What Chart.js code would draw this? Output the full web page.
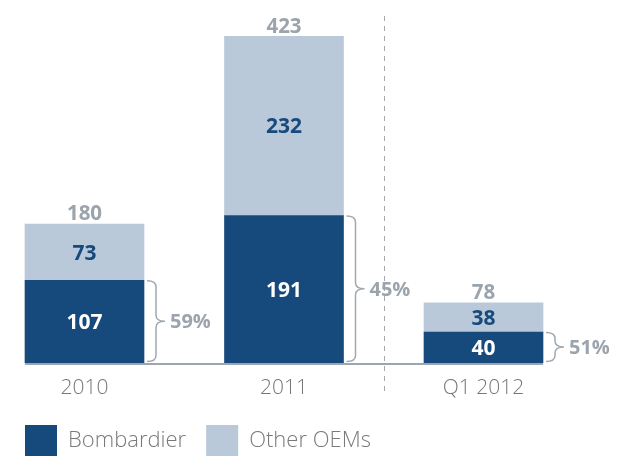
<!DOCTYPE html>
<html>
<head>
<meta charset="utf-8">
<script src="https://cdn.jsdelivr.net/npm/chart.js@4"></script>
<style>
  html, body { margin: 0; padding: 0; background: #ffffff; }
  #wrap { width: 622px; height: 456px; position: relative; }
</style>
</head>
<body>
<div id="wrap"><canvas id="chart"></canvas></div>
<script>
// Deliveries by year (units)
const categories = ['2010', '2011', 'Q1 2012'];
const bombardier = [107, 191, 40];
const otherOems = [73, 232, 38];
const totals = [180, 423, 78];
const bombardierShare = [59, 45, 51];

const DARK = '#174a7c';
const LIGHT = '#b9c9d9';
const GRAY = '#9ba4ad';
const FONT = "'Open Sans', 'DejaVu Sans', sans-serif";

// Labels, braces, baseline and the divider, all positioned from the bar elements
const annotations = {
    id: 'annotations',
    afterDatasetsDraw(chart) {
        const { ctx } = chart;
        const x = chart.scales.x;
        const y = chart.scales.y;
        const dark = chart.getDatasetMeta(0).data;
        const light = chart.getDatasetMeta(1).data;
        const half = dark[0].width / 2;

        ctx.save();

        // baseline
        const y0 = y.getPixelForValue(0);
        ctx.strokeStyle = '#9ca6b1';
        ctx.lineWidth = 2;
        ctx.beginPath();
        ctx.moveTo(x.getPixelForValue(0) - half, y0 + 1);
        ctx.lineTo(x.getPixelForValue(categories.length - 1) + half, y0 + 1);
        ctx.stroke();

        // dashed divider between full years and the quarter
        const xd = Math.round(x.getPixelForValue(1.5)) + 0.5;
        ctx.strokeStyle = '#a3a8ad';
        ctx.lineWidth = 1;
        ctx.setLineDash([5, 5]);
        ctx.beginPath();
        ctx.moveTo(xd, chart.chartArea.top + 16);
        ctx.lineTo(xd, y0 + 30);
        ctx.stroke();
        ctx.setLineDash([]);

        ctx.textAlign = 'center';
        ctx.textBaseline = 'middle';

        dark.forEach((bar, i) => {
            // bombardier value
            ctx.fillStyle = '#ffffff';
            ctx.font = `bold 21px ${FONT}`;
            ctx.fillText(bombardier[i], bar.x, (bar.y + bar.base) / 2 + 1.5);

            // other OEMs value
            const lb = light[i];
            ctx.fillStyle = DARK;
            ctx.fillText(otherOems[i], lb.x, (lb.y + lb.base) / 2 + 1.5);

            // total on top
            ctx.fillStyle = GRAY;
            ctx.font = `bold 20.5px ${FONT}`;
            ctx.fillText(totals[i], lb.x, lb.y - 9.5);

            // brace around the bombardier segment
            const xr = bar.x + half;
            const top = bar.y + 0.5;
            const bot = bar.base - 1.5;
            const mid = (top + bot) / 2;
            const xv = xr + 12;
            const r = 6;
            ctx.strokeStyle = '#a0a8b0';
            ctx.lineWidth = 1.5;
            ctx.beginPath();
            ctx.moveTo(xr + 3, top);
            ctx.quadraticCurveTo(xv, top, xv, top + r);
            ctx.lineTo(xv, mid - r);
            ctx.quadraticCurveTo(xv, mid, xr + 21, mid);
            ctx.quadraticCurveTo(xv, mid, xv, mid + r);
            ctx.lineTo(xv, bot - r);
            ctx.quadraticCurveTo(xv, bot, xr + 3, bot);
            ctx.stroke();

            ctx.textAlign = 'left';
            ctx.fillStyle = GRAY;
            ctx.font = `bold 20px ${FONT}`;
            ctx.fillText(bombardierShare[i] + '%', xr + 26, mid + 1.5);
            ctx.textAlign = 'center';
        });

        ctx.restore();
    }
};

new Chart(document.getElementById('chart'), {
    type: 'bar',
    data: {
        labels: categories,
        datasets: [
            {
                label: 'Bombardier',
                data: bombardier,
                backgroundColor: DARK,
                borderWidth: 0,
                barThickness: 119,
                clip: false
            },
            {
                label: 'Other OEMs',
                data: otherOems,
                backgroundColor: LIGHT,
                borderWidth: 0,
                barThickness: 119,
                clip: false
            }
        ]
    },
    options: {
        responsive: true,
        maintainAspectRatio: false,
        animation: false,
        layout: { padding: { left: 5, right: 138.5, top: 0, bottom: -10 } },
        plugins: {
            legend: {
                position: 'bottom',
                align: 'start',
                labels: {
                    boxWidth: 32,
                    boxHeight: 31,
                    padding: 20,
                    color: '#7a7a7a',
                    font: { family: FONT, size: 22, weight: '300' }
                }
            },
            tooltip: { enabled: false }
        },
        scales: {
            x: {
                stacked: true,
                offset: false,
                grid: { display: false, drawTicks: false },
                border: { display: false },
                ticks: {
                    color: '#777777',
                    padding: 12,
                    maxRotation: 0,
                    font: { family: FONT, size: 21, weight: '300' }
                },
                afterFit: (scale) => { scale.height = 42; }
            },
            y: {
                stacked: true,
                min: 0,
                max: 470,
                grid: { display: false },
                border: { display: false },
                ticks: { display: false },
                afterFit: (scale) => { scale.width = 79.5; }
            }
        }
    },
    plugins: [annotations]
});
</script>
</body>
</html>
